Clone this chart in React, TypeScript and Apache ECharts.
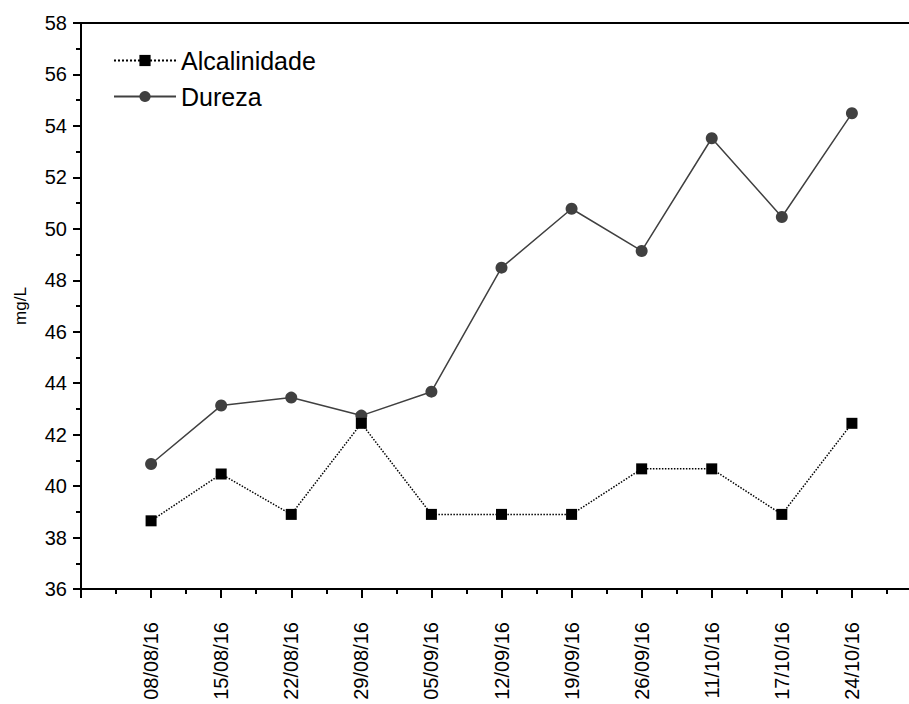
import React, { useEffect, useRef } from "react";
import * as echarts from "echarts";

const dates = ["08/08/16", "15/08/16", "22/08/16", "29/08/16", "05/09/16", "12/09/16", "19/09/16", "26/09/16", "11/10/16", "17/10/16", "24/10/16"];
const alcalinidade = [38.65, 40.47, 38.9, 42.44, 38.9, 38.9, 38.9, 40.67, 40.67, 38.9, 42.44];
const dureza = [40.86, 43.13, 43.44, 42.74, 43.67, 48.49, 50.78, 49.14, 53.52, 50.46, 54.49];

export default function App() {
  const ref = useRef<HTMLDivElement>(null);
  useEffect(() => {
    if (!ref.current) return;
    const chart = echarts.init(ref.current, null, { renderer: "svg" });
    const font = "Liberation Sans, Arial, sans-serif";
    chart.setOption({
      animation: false,
      backgroundColor: "#ffffff",
      grid: { left: 81, right: 1, top: 23, bottom: 115, containLabel: false },
      legend: {
        left: 108,
        top: 43,
        orient: "vertical",
        itemWidth: 62,
        itemHeight: 14,
        itemGap: 11,
        textStyle: { fontSize: 25, fontFamily: font, color: "#000" },
        data: ["Alcalinidade", "Dureza"],
      },
      xAxis: [
        {
          type: "value",
          min: 0,
          max: 12,
          interval: 1,
          axisLine: { show: true, lineStyle: { color: "#000", width: 2 } },
          axisTick: { show: true, length: 9, lineStyle: { color: "#000", width: 2 } },
          minorTick: { show: true, splitNumber: 2, length: 5, lineStyle: { color: "#000", width: 2 } },
          splitLine: { show: false },
          axisLabel: {
            rotate: 90,
            margin: 33,
            fontSize: 20,
            fontFamily: font,
            color: "#000",
            formatter: (v: number) => (v >= 1 && v <= dates.length ? dates[v - 1] : ""),
          },
        },
        {
          type: "value",
          position: "top",
          min: 0,
          max: 12,
          axisLine: { show: true, lineStyle: { color: "#000", width: 2 } },
          axisTick: { show: false },
          axisLabel: { show: false },
          splitLine: { show: false },
        },
      ],
      yAxis: {
        type: "value",
        min: 36,
        max: 58,
        interval: 2,
        name: "mg/L",
        nameLocation: "middle",
        nameGap: 52,
        nameTextStyle: { fontSize: 17, fontFamily: font, color: "#000" },
        axisLine: { show: true, lineStyle: { color: "#000", width: 2 } },
        axisTick: { show: true, length: 8, lineStyle: { color: "#000", width: 2 } },
        minorTick: { show: true, splitNumber: 2, length: 5, lineStyle: { color: "#000", width: 2 } },
        splitLine: { show: false },
        axisLabel: { margin: 14, fontSize: 20, fontFamily: font, color: "#000" },
      },
      series: [
        {
          name: "Alcalinidade",
          type: "line",
          data: alcalinidade.map((v, i) => [i + 1, v]),
          symbol: "rect",
          symbolSize: 11,
          itemStyle: { color: "#000" },
          lineStyle: { color: "#000", width: 1.5, type: "dotted" },
          z: 3,
        },
        {
          name: "Dureza",
          type: "line",
          data: dureza.map((v, i) => [i + 1, v]),
          symbol: "circle",
          symbolSize: 12,
          itemStyle: { color: "#404040" },
          lineStyle: { color: "#404040", width: 1.5 },
          z: 2,
        },
      ],
    });
    return () => chart.dispose();
  }, []);
  return (
    <div style={{ width: 909, height: 704, position: "absolute", left: 0, top: 0, overflow: "hidden" }}>
      <div ref={ref} style={{ width: 923, height: 704 }} />
    </div>
  );
}
